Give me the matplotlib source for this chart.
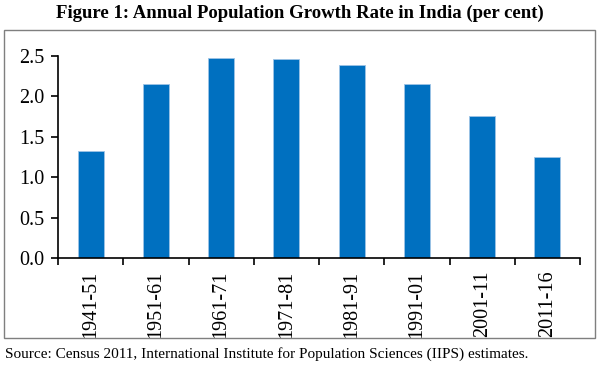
import matplotlib.pyplot as plt
from matplotlib.patches import Rectangle

periods = ["1941-51", "1951-61", "1961-71", "1971-81", "1981-91", "1991-01", "2001-11", "2011-16"]
growth_rate = [1.33, 2.16, 2.48, 2.46, 2.39, 2.15, 1.76, 1.25]
y_ticks = [0.0, 0.5, 1.0, 1.5, 2.0, 2.5]

plt.rcParams["font.family"] = ["Liberation Serif", "DejaVu Serif"]

fig = plt.figure(figsize=(6, 3.69), dpi=100)
ax = fig.add_axes([0.0967, 0.3008, 0.87, 0.5472])

x = list(range(len(periods)))
ax.bar(x, growth_rate, width=0.4, color="#0070C0", edgecolor="#9DC3E6", linewidth=0.6)

ax.set_xlim(-0.5, len(periods) - 0.5)
ax.set_ylim(0, 2.5)
ax.set_yticks(y_ticks)
ax.set_yticklabels([f"{v:.1f}" for v in y_ticks], fontsize=14.5)

# ticks sit between the categories, labels in the middle
ax.set_xticks([i - 0.5 for i in range(len(periods) + 1)])
ax.set_xticklabels([])
ax.set_xticks(x, minor=True)
ax.set_xticklabels(periods, minor=True, rotation=90, fontsize=14.5)
ax.tick_params(axis="x", which="minor", length=0, pad=9)
ax.tick_params(axis="x", which="major", length=5, width=1.2, direction="out")
ax.tick_params(axis="y", length=5, width=1.2, direction="out", pad=5)

for side in ["top", "right"]:
    ax.spines[side].set_visible(False)
for side in ["left", "bottom"]:
    ax.spines[side].set_linewidth(1.2)

fig.text(0.5, 0.965, "Figure 1: Annual Population Growth Rate in India (per cent)",
         ha="center", va="center", fontsize=13.5, fontweight="bold")

# frame around the chart area
fig.patches.append(Rectangle((4 / 600, 1 - 338 / 369), 591 / 600, 308 / 369,
                             transform=fig.transFigure, fill=False,
                             edgecolor="#7f7f7f", linewidth=1))

fig.text(5 / 600, 1 - 354 / 369,
         "Source: Census 2011, International Institute for Population Sciences (IIPS) estimates.",
         ha="left", va="center", fontsize=11)

fig.savefig("out.png", dpi=100)
